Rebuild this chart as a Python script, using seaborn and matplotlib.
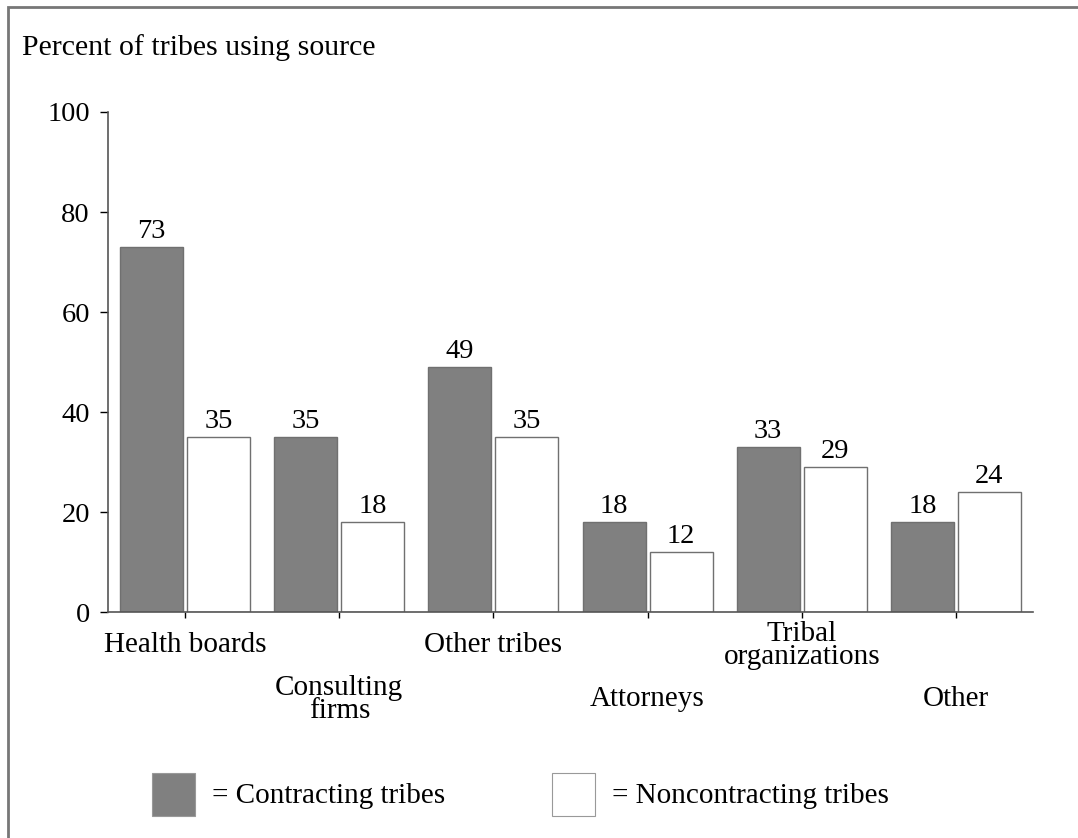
import pandas as pd
import matplotlib.pyplot as plt
import seaborn as sns
from matplotlib.patches import Rectangle
from matplotlib.transforms import blended_transform_factory

sources = ['Health boards', 'Consulting\nfirms', 'Other tribes', 'Attorneys',
           'Tribal\norganizations', 'Other']
contracting = [73, 35, 49, 18, 33, 18]
noncontracting = [35, 18, 35, 12, 29, 24]
groups = ['Contracting tribes', 'Noncontracting tribes']

df = pd.DataFrame({'source': sources * 2,
                   'pct': contracting + noncontracting,
                   'group': [groups[0]] * 6 + [groups[1]] * 6})

sns.set_style('white')
plt.rcParams['font.family'] = ['Liberation Serif', 'DejaVu Serif']
plt.rcParams['text.color'] = 'black'
plt.rcParams['ytick.labelcolor'] = 'black'

W, H = 1078, 838
fig = plt.figure(figsize=(W / 100, H / 100), dpi=100)
ax = fig.add_axes([108 / W, 1 - 612 / H, (1033 - 108) / W, 500 / H])

sns.barplot(data=df, x='source', y='pct', hue='group',
            palette={groups[0]: '#808080', groups[1]: 'white'},
            width=0.87, gap=0.06, edgecolor='#707070', linewidth=1,
            legend=False, ax=ax)

for cont in ax.containers:
    ax.bar_label(cont, fmt='%d', fontsize=20.5, padding=2, color='black')

ax.set_ylim(0, 100)
ax.set_xlim(-0.5, 5.5)
ax.set_yticks(range(0, 101, 20))
ax.tick_params(axis='y', labelsize=20.5, length=6, width=1, direction='out',
               left=True, pad=7, color='black', labelcolor='black')
ax.tick_params(axis='x', length=4, width=1, direction='out', bottom=True,
               labelbottom=False, color='black')
ax.set_xlabel('')
ax.set_ylabel('')
for s in ['top', 'right']:
    ax.spines[s].set_visible(False)
for s in ['left', 'bottom']:
    ax.spines[s].set_color('#555555')
    ax.spines[s].set_linewidth(1.2)

# staggered category labels
trans = blended_transform_factory(ax.transData, fig.transFigure)
for i, name in enumerate(sources):
    y = 1 - (645 if i % 2 == 0 else 699) / H
    ax.text(i, y, name, transform=trans, ha='center', va='center',
            fontsize=21, linespacing=0.85, multialignment='center',
            color='black')

fig.text(22 / W, 1 - 48 / H, 'Percent of tribes using source', fontsize=21.5,
         ha='left', va='center', color='black')

# legend
for x0, fc, label in [(152, '#808080', '= Contracting tribes'),
                      (552, 'white', '= Noncontracting tribes')]:
    fig.add_artist(Rectangle((x0 / W, 1 - 816 / H), 43 / W, 43 / H,
                             transform=fig.transFigure, facecolor=fc,
                             edgecolor='#999999', linewidth=0.8))
    fig.text((x0 + 60) / W, 1 - 796 / H, label, fontsize=21,
             ha='left', va='center', color='black')

# frame
fig.add_artist(Rectangle((8 / W, -0.1), 1.2, 1.1 - 7 / H,
                         transform=fig.transFigure, fill=False,
                         edgecolor='#777777', linewidth=2))

plt.savefig('out.png', dpi=100)
plt.close()
